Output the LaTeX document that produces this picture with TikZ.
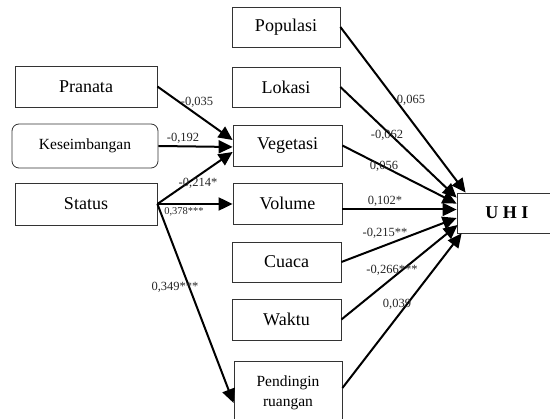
\documentclass[tikz,border=0pt]{standalone}
\usepackage{fontspec}
\setmainfont{Liberation Serif}
\usetikzlibrary{arrows.meta}
\tikzset{
  box/.style={draw=black!80, line width=0.8pt, fill=white, inner sep=0pt, font=\fontsize{18}{20}\selectfont},
  arr/.style={line width=2pt, -{Triangle[length=14pt,width=13pt]}},
  lab/.style={inner sep=0pt, text=black!85, font=\fontsize{12.5}{14}\selectfont},
}
\begin{document}
\begin{tikzpicture}[x=1pt,y=-1pt]
\useasboundingbox (0,0) rectangle (550,419);
\clip (0,0) rectangle (550,419);
% left column
\node[box, minimum width=142pt, minimum height=41pt] (pranata) at (86,86.5) {Pranata};
\node[box, rounded corners=7pt, minimum width=146pt, minimum height=44pt, font=\fontsize{15.5}{17}\selectfont] (kes) at (85,146) {Keseimbangan};
\node[box, minimum width=142pt, minimum height=42pt] (status) at (86,204) {Status};
% middle column
\node[box, minimum width=108pt, minimum height=40pt] (populasi) at (286,27) {Populasi};
\node[box, minimum width=108pt, minimum height=40pt] (lokasi) at (286,87) {Lokasi};
\node[box, minimum width=109pt, minimum height=41pt] (vegetasi) at (287.5,145.5) {Vegetasi};
\node[box, minimum width=109pt, minimum height=41pt] (volume) at (287.5,203.5) {Volume};
\node[box, minimum width=109pt, minimum height=40pt] (cuaca) at (286.5,262) {Cuaca};
\node[box, minimum width=109pt, minimum height=41pt] (waktu) at (286.5,319.5) {Waktu};
\node[box, minimum width=108pt, minimum height=64pt, align=center, font=\fontsize{15.5}{20}\selectfont] (pendingin) at (288,393) {Pendingin\\ruangan};
% UHI
\node[box, minimum width=100pt, minimum height=40pt, font=\fontsize{18}{20}\selectfont\bfseries] (uhi) at (507,213) {U H I};
% connectors left
\draw[arr] (pranata.east) -- ([yshift=5.5pt]vegetasi.west);
\draw[arr] (kes.east) -- ([yshift=-1.5pt]vegetasi.west);
\draw[arr] (status.east) -- ([yshift=-6.5pt]vegetasi.west);
\draw[arr] (status.east) -- (status.east -| volume.west);
\draw[arr] (status.east) -- ([yshift=-10pt]pendingin.west);
% connectors to UHI
\draw[arr] (populasi.east) -- ([xshift=9pt]uhi.north west);
\draw[arr] (lokasi.east) -- ([yshift=-5pt]uhi.north west);
\draw[arr] (vegetasi.east) -- ([yshift=-11pt]uhi.north west);
\draw[arr] ([yshift=-6pt]volume.east) -- ([yshift=-6pt]volume.east -| uhi.west);
\draw[arr] (cuaca.east) -- ([yshift=-5pt]uhi.west);
\draw[arr] (waktu.east) -- ([yshift=-12pt,xshift=1pt]uhi.west);
\draw[arr] ([yshift=5pt]pendingin.east) -- ([xshift=5pt]uhi.south west);
% labels
\node[lab] (l1) at (197,102) {-0,035};
\node[lab] (l2) at (183,138) {-0,192};
\node[lab] (l3) at (198,183) {-0,214*};
\node[lab, font=\fontsize{10.5}{12}\selectfont] (l4) at (184,212) {0,378***};
\node[lab] (l5) at (175,287) {0,349***};
\node[lab] (l6) at (411,100) {0,065};
\node[lab] (l7) at (387,135) {-0,062};
\node[lab] (l8) at (384,166) {0,056};
\node[lab] (l9) at (385,201) {0,102*};
\node[lab] (l10) at (385,233) {-0,215**};
\node[lab] (l11) at (392,270) {-0,266***};
\node[lab] (l12) at (397,304) {0,039};
\end{tikzpicture}
\end{document}
